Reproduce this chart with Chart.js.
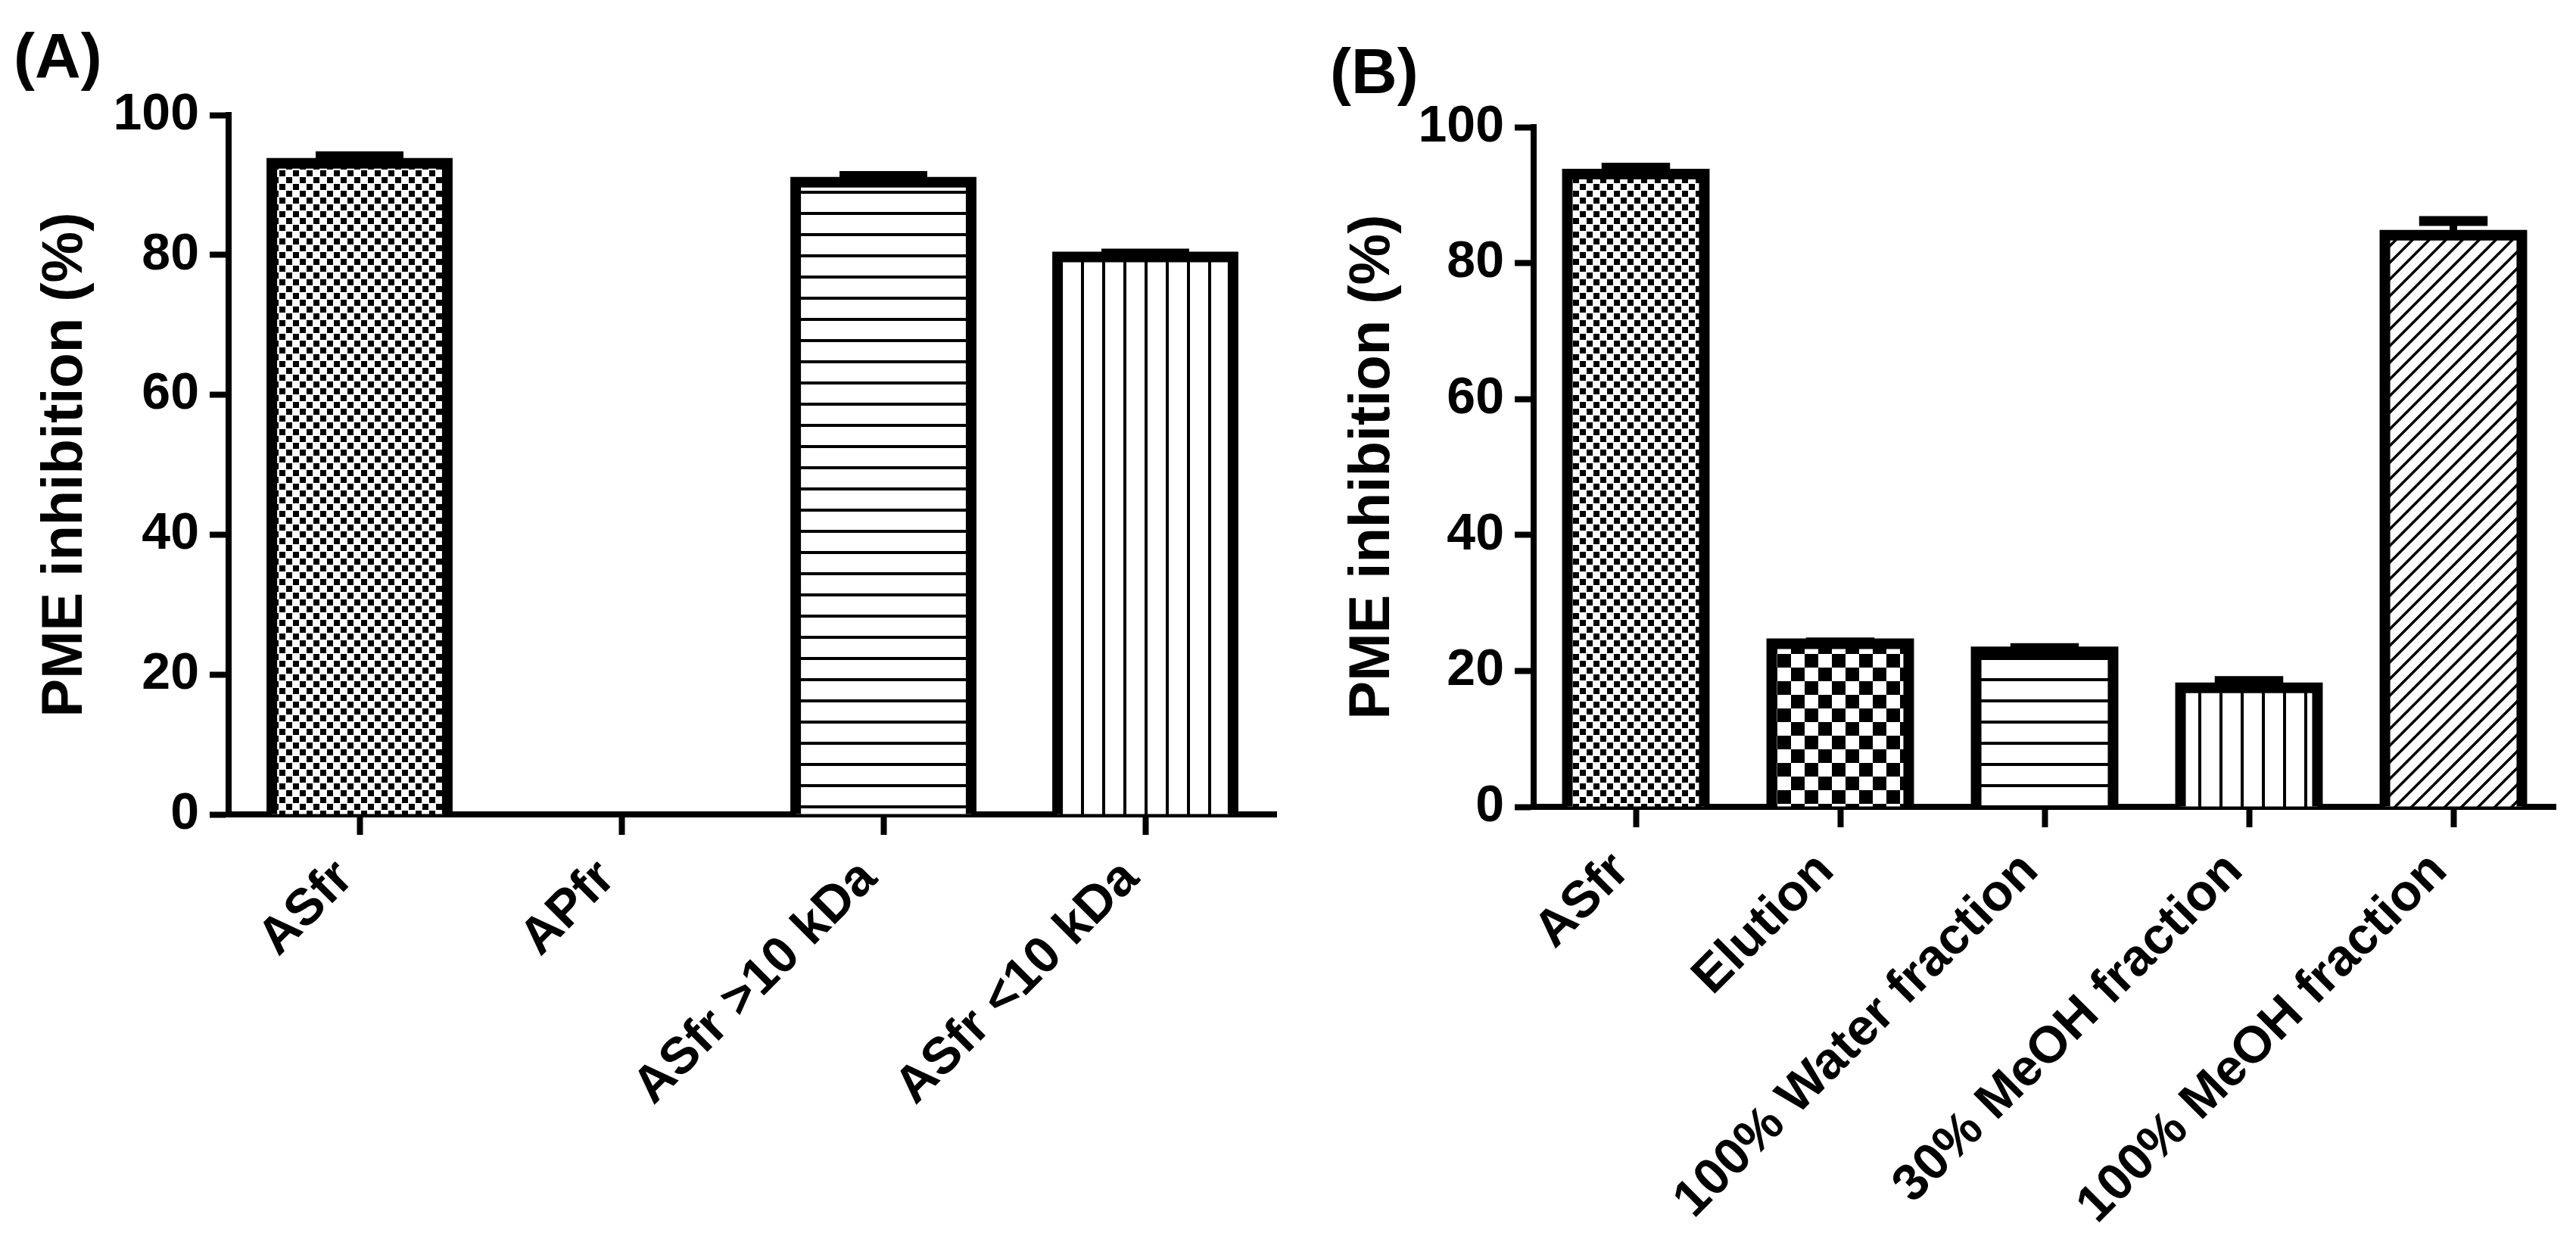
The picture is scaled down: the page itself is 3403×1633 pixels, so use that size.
<!DOCTYPE html>
<html>
<head>
<meta charset="utf-8">
<script src="https://cdn.jsdelivr.net/npm/chart.js@4.4.1/dist/chart.umd.min.js"></script>
<style>
  body { margin: 0; background: #fff; }
  #wrap { position: relative; width: 3403px; height: 1633px; }
  canvas { position: absolute; top: 0; }
  #chartA { left: 0; }
  #chartB { left: 1700px; }
</style>
</head>
<body>
<div id="wrap">
  <canvas id="chartA" width="1700" height="1633"></canvas>
  <canvas id="chartB" width="1703" height="1633"></canvas>
</div>
<script>
// values (% PME inhibition, bar height and upper error)
const labelsA = ['ASfr', 'APfr', 'ASfr >10 kDa', 'ASfr <10 kDa'];
const valuesA = [93.1, 0, 90.4, 79.7];
const errorsA = [1.0, 0, 0.9, 0.5];

const labelsB = ['ASfr', 'Elution', '100% Water fraction', '30% MeOH fraction', '100% MeOH fraction'];
const valuesB = [93.1, 24.0, 22.8, 17.5, 84.1];
const errorsB = [0.95, 0.2, 0.55, 1.0, 2.1];

const yMin = 0;
const yMax = 100;
const yStep = 20;
const axisTitle = 'PME inhibition (%)';

// fill pattern per bar
const fillsA = ['fine', 'fine', 'hlines', 'vlines'];
const fillsB = ['fine', 'coarse', 'hlines', 'vlines', 'diag'];

const FONT = "'Liberation Sans', Arial, Helvetica, sans-serif";
const H = 1633;
Chart.defaults.color = '#000';
Chart.defaults.font.family = FONT;

// build the black & white hatch patterns
function makePattern(kind) {
  const c = document.createElement('canvas');
  const g = c.getContext('2d');
  let s = 18;
  if (kind === 'coarse') s = 36;
  if (kind === 'hlines' || kind === 'vlines') s = 28;
  if (kind === 'diag') s = 22;
  c.width = s; c.height = s;
  g.fillStyle = '#fff';
  g.fillRect(0, 0, s, s);
  g.fillStyle = '#000';
  g.strokeStyle = '#000';
  if (kind === 'fine') {
    g.fillRect(0, 0, 8, 8);
    g.fillRect(9, 9, 8, 8);
  } else if (kind === 'coarse') {
    g.fillRect(0, 0, 18, 18);
    g.fillRect(18, 18, 18, 18);
  } else if (kind === 'hlines') {
    g.fillRect(0, 0, s, 4);
  } else if (kind === 'vlines') {
    g.fillRect(0, 0, 4, s);
  } else if (kind === 'diag') {
    g.lineWidth = 3.5;
    g.beginPath();
    [0, s, 2 * s].forEach(k => {
      g.moveTo(-s, k + s);
      g.lineTo(k + s, -s);
    });
    g.stroke();
  }
  return g.createPattern(c, 'repeat');
}

//"(A)" / "(B)" in the corner
const panelLabel = {
  id: 'panelLabel',
  afterDraw(chart, args, opts) {
    const ctx = chart.ctx;
    ctx.save();
    ctx.font = `bold 84px ${FONT}`;
    ctx.fillStyle = '#000';
    ctx.textBaseline = 'alphabetic';
    ctx.fillText(opts.text, opts.x, opts.y);
    ctx.restore();
  }
};

// thick open outline (left, top, right) centred on the bar edges
const barOutline = {
  id: 'barOutline',
  afterDatasetsDraw(chart) {
    const ctx = chart.ctx;
    const data = chart.data.datasets[0].data;
    ctx.save();
    ctx.strokeStyle = '#000';
    ctx.lineWidth = 14;
    ctx.lineJoin = 'miter';
    chart.getDatasetMeta(0).data.forEach((bar, i) => {
      if (!data[i]) return;
      const { x, y, base, width } = bar.getProps(['x', 'y', 'base', 'width'], true);
      ctx.beginPath();
      ctx.moveTo(x - width / 2, base);
      ctx.lineTo(x - width / 2, y);
      ctx.lineTo(x + width / 2, y);
      ctx.lineTo(x + width / 2, base);
      ctx.stroke();
    });
    ctx.restore();
  }
};

// upper error bar with a cap
const errorBars = {
  id: 'errorBars',
  afterDatasetsDraw(chart, args, opts) {
    const ctx = chart.ctx;
    const yScale = chart.scales.y;
    const data = chart.data.datasets[0].data;
    ctx.save();
    ctx.strokeStyle = '#000';
    chart.getDatasetMeta(0).data.forEach((bar, i) => {
      const err = opts.errors[i];
      if (!err) return;
      const { x, y, width } = bar.getProps(['x', 'y', 'width'], true);
      const top = yScale.getPixelForValue(data[i] + err);
      const half = width * 0.25;
      ctx.lineWidth = 10;
      ctx.beginPath();
      ctx.moveTo(x, y);
      ctx.lineTo(x, top);
      ctx.stroke();
      ctx.lineWidth = 13;
      ctx.beginPath();
      ctx.moveTo(x - half, top);
      ctx.lineTo(x + half, top);
      ctx.stroke();
    });
    ctx.restore();
  }
};

function buildChart(id, labels, values, errors, fills, box, tag) {
  const canvas = document.getElementById(id);
  const W = canvas.width;
  return new Chart(canvas, {
    type: 'bar',
    plugins: [barOutline, errorBars, panelLabel],
    data: {
      labels: labels,
      datasets: [{
        data: values,
        backgroundColor: fills.map(makePattern),
        borderWidth: 0,
        barPercentage: 0.67,
        categoryPercentage: 1
      }]
    },
    options: {
      responsive: false,
      animation: false,
      layout: { padding: { left: box.padLeft, top: box.top, right: W - box.right, bottom: 0 } },
      plugins: {
        legend: { display: false },
        tooltip: { enabled: false },
        errorBars: { errors: errors },
        panelLabel: tag
      },
      scales: {
        x: {
          offset: true,
          grid: { display: true, offset: false, drawOnChartArea: false, drawTicks: true, tickLength: 27, tickWidth: 8, tickColor: '#000' },
          border: { display: true, color: '#000', width: 8 },
          ticks: { autoSkip: false, minRotation: 45, maxRotation: 45, padding: 18, labelOffset: -19,
                   color: '#000', font: { size: 68, weight: 'bold' } },
          afterFit: s => { s.height = H - box.bottom; }
        },
        y: {
          min: yMin,
          max: yMax,
          grid: { drawOnChartArea: false, drawTicks: true, tickLength: 25, tickWidth: 8, tickColor: '#000' },
          border: { display: true, color: '#000', width: 8 },
          ticks: { stepSize: yStep, padding: 14, color: '#000', font: { size: 68, weight: 'bold' } },
          title: { display: true, text: axisTitle, color: '#000', font: { size: 76, weight: 'bold' },
                   padding: { top: box.titlePad, bottom: 0 } },
          afterFit: s => { s.width = box.left - box.padLeft; }
        }
      }
    }
  });
}

buildChart('chartA', labelsA, valuesA, errorsA, fillsA,
  { left: 302, top: 152, right: 1686, bottom: 1076, padLeft: 20, titlePad: 21 },
  { text: '(A)', x: 18, y: 103 });

buildChart('chartB', labelsB, valuesB, errorsB, fillsB,
  { left: 326, top: 168, right: 1676, bottom: 1066, padLeft: 45, titlePad: 23 },
  { text: '(B)', x: 57, y: 123 });
</script>
</body>
</html>
